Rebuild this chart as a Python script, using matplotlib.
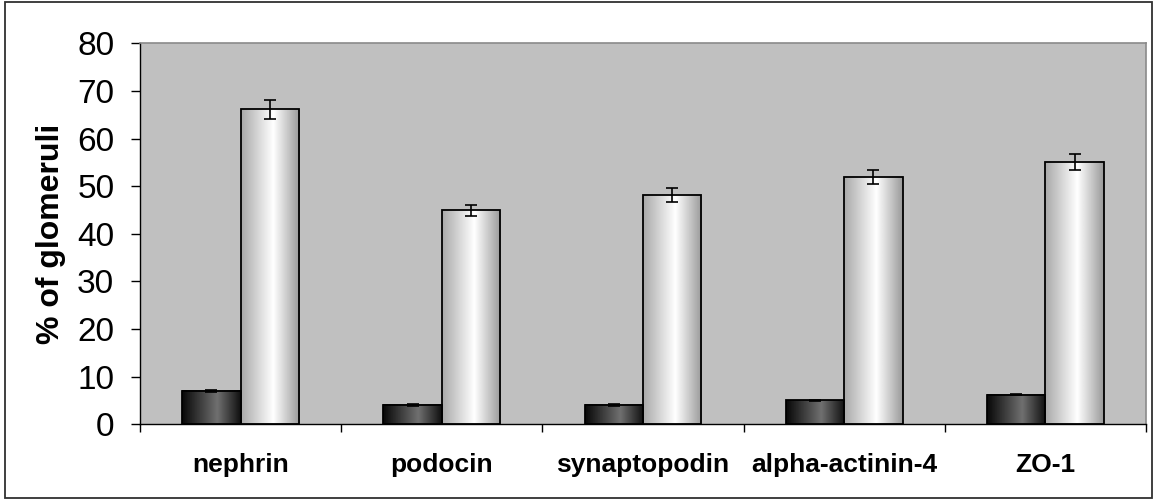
import numpy as np
import matplotlib
matplotlib.use("Agg")
import matplotlib.pyplot as plt
from matplotlib.patches import Rectangle

plt.rcParams['font.family'] = ['Liberation Sans', 'DejaVu Sans']

categories = ['nephrin', 'podocin', 'synaptopodin', 'alpha-actinin-4', 'ZO-1']
dark_vals = [7.0, 4.0, 4.1, 5.0, 6.2]
dark_err = [0.3, 0.2, 0.2, 0.1, 0.1]
light_vals = [66.1, 44.9, 48.2, 51.9, 55.1]
light_err = [2.0, 1.1, 1.5, 1.4, 1.7]

fig = plt.figure(figsize=(11.55, 4.99), dpi=100)
ax = fig.add_axes([140 / 1155, 74.7 / 499, 1006 / 1155, 381 / 499])
ax.set_facecolor('#c0c0c0')

# outer frame like the spreadsheet chart area
fig.patches.append(Rectangle((5 / 1155, 1 / 499), 1147 / 1155, 496 / 499,
                             transform=fig.transFigure, fill=False,
                             edgecolor='#303030', linewidth=1.3))

w = 0.29
x = np.arange(len(categories))

# horizontal shading for the bars
t = np.linspace(0, 1, 200)
dark_grad = np.interp(t, [0, 0.6, 1], [0.03, 0.44, 0.06])
light_grad = np.interp(t, [0, 0.55, 1], [0.66, 1.0, 0.6])


def shaded_bars(xs, vals, grad):
    for xi, v in zip(xs, vals):
        ax.imshow(grad[np.newaxis, :], extent=[xi - w / 2, xi + w / 2, 0, v],
                  aspect='auto', cmap='gray', vmin=0, vmax=1, zorder=2,
                  interpolation='bilinear')
    ax.bar(xs, vals, w, facecolor='none', edgecolor='black',
           linewidth=1.3, zorder=3)


shaded_bars(x - w / 2, dark_vals, dark_grad)
shaded_bars(x + w / 2, light_vals, light_grad)

ax.errorbar(x - w / 2, dark_vals, yerr=dark_err, fmt='none', ecolor='black',
            elinewidth=1.2, capsize=4, capthick=1.2, zorder=4)
ax.errorbar(x + w / 2, light_vals, yerr=light_err, fmt='none', ecolor='black',
            elinewidth=1.2, capsize=4, capthick=1.2, zorder=4)

ax.set_xlim(-0.5, len(categories) - 0.5)
ax.set_ylim(0, 80)
ax.set_yticks(np.arange(0, 81, 10))
ax.tick_params(axis='y', direction='out', length=6.5, width=1,
               labelsize=24, pad=12)

ax.set_xticks(x)
ax.set_xticklabels(categories, fontsize=19, fontweight='bold')
ax.set_xticks(np.arange(-0.5, len(categories), 1), minor=True)
ax.tick_params(axis='x', which='major', length=0, pad=21)
ax.tick_params(axis='x', which='minor', direction='out', length=6, width=1)

ax.set_ylabel('% of glomeruli', fontsize=23, fontweight='bold', labelpad=8)

for side in ['left', 'bottom']:
    ax.spines[side].set_color('black')
    ax.spines[side].set_linewidth(1)
for side in ['top', 'right']:
    ax.spines[side].set_color('#8a8a8a')
    ax.spines[side].set_linewidth(1.2)

fig.savefig('out.png', dpi=100)
